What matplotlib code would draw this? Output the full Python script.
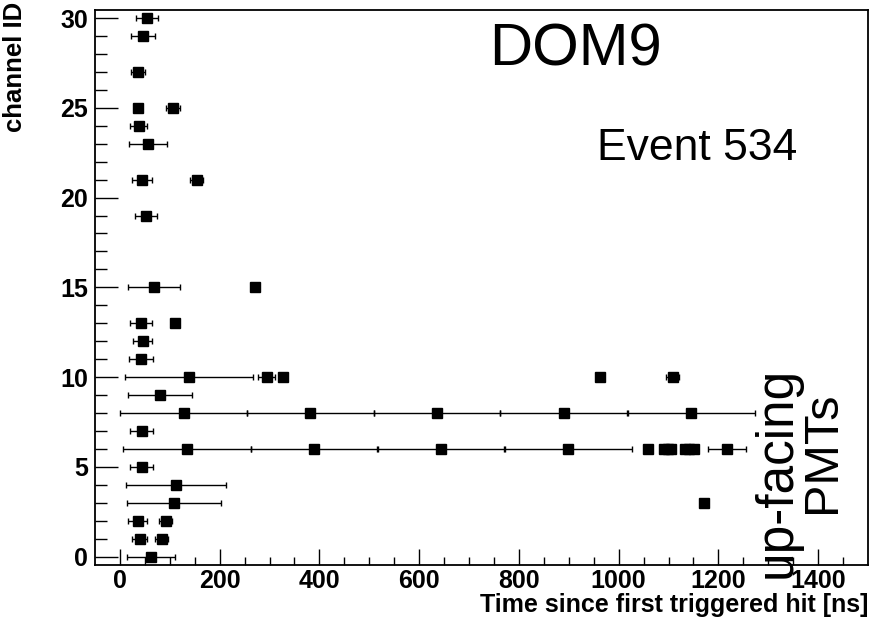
import numpy as np
import matplotlib.pyplot as plt

plt.rcParams['font.family'] = ['Liberation Sans', 'DejaVu Sans']

# hits: channel ID, time [ns], time error [ns]
channel = [30, 29, 27, 25, 25, 24, 23, 21, 21, 19,
           15, 15, 13, 13, 12, 11, 10, 10, 10, 10, 10,
           9, 8, 8, 8, 8, 8, 7,
           6, 6, 6, 6, 6, 6, 6, 6, 6, 6, 6, 6,
           5, 4, 3, 3, 2, 2, 1, 1, 0]
time_ns = [54, 46, 36, 36, 106, 38, 56, 44, 154, 52,
           68, 270, 42, 110, 46, 42, 138, 294, 328, 962, 1108,
           80, 128, 382, 636, 890, 1146, 44,
           134, 390, 644, 898, 1058, 1090, 1098, 1104, 1134, 1142, 1152, 1218,
           44, 112, 108, 1172, 36, 92, 40, 84, 62]
time_err = [22, 24, 14, 4, 14, 17, 38, 20, 13, 22,
            52, 5, 22, 0, 19, 24, 128, 17, 0, 0, 13,
            64, 127, 127, 127, 127, 127, 23,
            128, 128, 128, 128, 0, 0, 0, 0, 0, 0, 0, 38,
            23, 100, 94, 0, 19, 13, 15, 13, 48]

fig = plt.figure(figsize=(8.71, 6.22), dpi=100)
ax = fig.add_axes([0.109, 0.092, 0.8876, 0.892])

ax.errorbar(time_ns, channel, xerr=time_err, fmt='s', color='black',
            markersize=7, elinewidth=1.0, capsize=2, capthick=1.0)

ax.set_xlim(-50, 1500)
ax.set_ylim(-0.45, 30.45)
ax.set_xticks(np.arange(0, 1401, 200))
ax.set_xticks(np.arange(0, 1500, 50), minor=True)
ax.set_yticks(np.arange(0, 31, 5))
ax.set_yticks(np.arange(0, 31, 1), minor=True)
ax.tick_params(which='both', direction='in', top=False, right=False,
               labelsize=18, width=1.0)
ax.tick_params(axis='y', which='major', length=16.5, pad=5)
ax.tick_params(axis='y', which='minor', length=8.5)
ax.tick_params(axis='x', which='major', length=11.5, pad=3)
ax.tick_params(axis='x', which='minor', length=5.8)
for lab in ax.get_xticklabels() + ax.get_yticklabels():
    lab.set_fontweight('bold')
for s in ax.spines.values():
    s.set_linewidth(1.3)

ax.set_xlabel('Time since first triggered hit [ns]', fontsize=18,
              fontweight='bold', loc='right', labelpad=0)
ax.set_ylabel('channel ID', fontsize=18.5, fontweight='bold', loc='top')
ax.yaxis.set_label_coords(-0.088, 1.0144)

fig.text(575 / 871, 1 - 50 / 622, 'DOM9', fontsize=43, ha='center', va='center')
fig.text(697 / 871, 1 - 148 / 622, 'Event 534', fontsize=32, ha='center', va='center')
fig.text(777 / 871, 1 - 472 / 622, 'up-facing', fontsize=37, ha='center',
         va='center', rotation=90)
fig.text(822 / 871, 1 - 452 / 622, 'PMTs', fontsize=35, ha='center',
         va='center', rotation=90)

fig.savefig('out.png', dpi=100)
